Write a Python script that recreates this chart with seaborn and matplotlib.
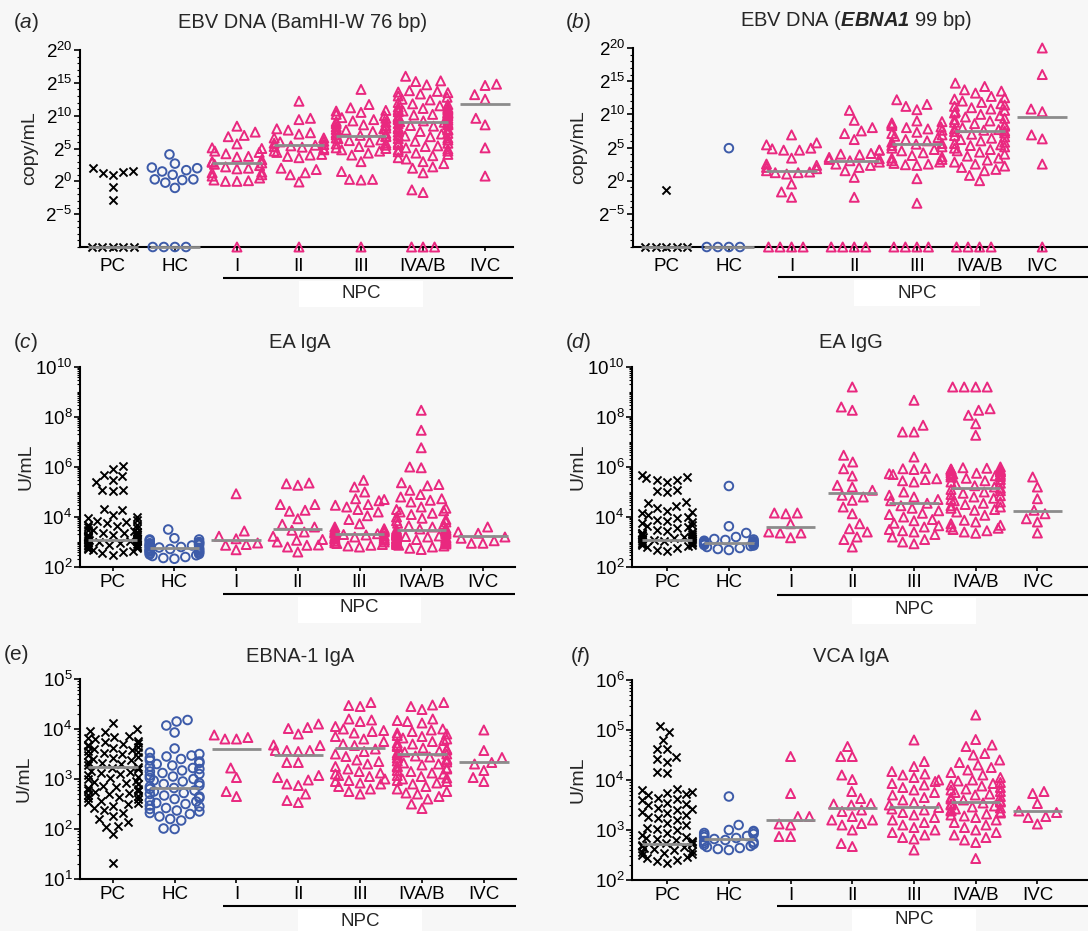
import warnings
warnings.filterwarnings("ignore")
import numpy as np
import pandas as pd
import matplotlib
matplotlib.use("Agg")
import matplotlib.pyplot as plt
import seaborn as sns
from matplotlib.patches import Rectangle
from matplotlib.ticker import NullFormatter
from matplotlib.transforms import blended_transform_factory

sns.set_style("ticks")
plt.rcParams["font.family"] = ["Liberation Sans", "DejaVu Sans"]
plt.rcParams["mathtext.fontset"] = "custom"
plt.rcParams["mathtext.rm"] = "Liberation Sans"
plt.rcParams["mathtext.it"] = "Liberation Sans:italic"
plt.rcParams["mathtext.bf"] = "Liberation Sans:bold"
plt.rcParams["mathtext.bfit"] = "Liberation Sans:italic:bold"

CATS = ["PC", "HC", "I", "II", "III", "IVA/B", "IVC"]
KIND = {"PC": "PC", "HC": "HC", "I": "NPC", "II": "NPC", "III": "NPC", "IVA/B": "NPC", "IVC": "NPC"}
ND = None  # undetectable (0 copy/mL), shown on the baseline

# ---------- (a) EBV DNA BamHI-W, log2 copy/mL ----------
A_PC = [1.5, 1.3, 1.0, 1.4, 2.0, -0.9, -2.9, ND, ND, ND, ND, ND]
A_HC = [4.1, 2.7, 2.0, 2.1, 1.7, 1.5, 1.0, 0.3, 0.2, 0.3, -0.2, -1.0, ND, ND, ND, ND]
A_I = [8.4, 7.5, 7.0, 6.8, 5.7, 5.0, 5.1, 4.6, 4.4, 4.2, 3.8, 3.7, 3.3, 3.0, 2.9,
       2.8, 2.6, 2.4, 2.2, 2.0, 1.9, 1.4, 1.3, 1.0, 0.8, 0.5, 0.2, 0.1, 0.0, 0.0, ND]
A_II = [12.2, 9.6, 9.4, 8.0, 7.8, 7.4, 7.2, 6.6, 6.6, 6.1, 6.0, 5.8, 5.6, 5.5, 5.4, 5.3, 5.2, 5.0,
        4.8, 4.6, 4.4, 4.1, 4.0, 3.8, 3.6, 2.0, 1.8, 1.3, 1.0, -0.1, ND]
A_III = [14.0, 11.7, 11.2, 10.8, 10.7, 10.5, 10.2, 10.0, 9.7, 9.6, 9.4, 9.2, 9.1, 9.0, 8.8, 8.6, 8.5,
         8.3, 8.1, 8.0, 7.9, 7.8, 7.6, 7.4, 7.3, 7.1, 7.0, 6.9, 6.8, 6.6, 6.5, 6.3, 6.2, 6.0, 5.8,
         5.7, 5.5, 5.3, 5.1, 5.0, 4.8, 4.6, 4.3, 4.0, 3.0, 1.5, 0.3, 0.3, 0.2, ND]
A_IVAB = [16.0, 15.2, 15.3, 14.7, 13.8, 13.7, 13.6, 13.5, 13.3, 13.0, 12.8, 12.5, 12.4, 12.0, 11.8,
          11.7, 11.5, 11.3, 11.2, 11.1, 11.0, 10.9, 10.8, 10.7, 10.6, 10.5, 10.4, 10.3, 10.2, 10.1,
          10.0, 9.9, 9.8, 9.7, 9.6, 9.5, 9.4, 9.3, 9.2, 9.1, 9.0, 8.9, 8.8, 8.7, 8.6, 8.5, 8.4, 8.2,
          8.0, 7.9, 7.8, 7.6, 7.5, 7.3, 7.2, 7.0, 6.9, 6.8, 6.6, 6.5, 6.3, 6.1, 5.9, 5.8, 5.6, 5.4,
          5.3, 5.1, 4.9, 4.8, 4.6, 4.5, 4.3, 4.1, 3.9, 3.6, 3.4, 3.0, 2.7, 2.2, 2.0, 1.3, -1.3, -1.7,
          ND, ND, ND]
A_IVC = [14.6, 14.8, 13.2, 12.5, 9.6, 8.6, 5.1, 0.8]
A_MED = [ND, ND, 2.85, 5.5, 6.85, 9.1, 11.8]

# ---------- (b) EBV DNA EBNA1, log2 copy/mL ----------
B_PC = [-1.4, ND, ND, ND, ND, ND]
B_HC = [4.9, ND, ND, ND, ND]
B_I = [6.9, 5.7, 5.4, 4.9, 4.8, 4.6, 4.6, 3.4, 2.5, 2.3, 2.0, 1.8, 1.2, 1.3, 1.5, 1.0, 1.2,
       -0.5, -1.7, -2.5, ND, ND, ND, ND]
B_II = [10.6, 9.1, 8.0, 7.5, 7.1, 6.2, 4.6, 4.6, 4.1, 4.0, 3.9, 3.5, 3.3, 3.2, 3.0, 2.8, 2.5,
        2.3, 2.0, 1.5, 0.5, -2.5, ND, ND, ND, ND]
B_III = [12.2, 11.5, 11.2, 10.7, 9.0, 8.9, 8.7, 8.5, 8.3, 8.1, 8.0, 7.8, 7.6, 7.3, 7.1, 6.9, 6.7,
         6.5, 6.2, 6.0, 5.8, 5.6, 5.5, 5.3, 5.1, 4.9, 4.7, 4.5, 4.2, 3.8, 3.6, 3.4, 3.2, 3.0, 2.8,
         2.6, 2.5, 2.4, 2.3, 0.3, -3.4, ND, ND, ND, ND]
B_IVAB = [14.7, 14.2, 13.7, 13.5, 13.2, 12.7, 12.5, 12.3, 12.0, 11.8, 11.6, 11.4, 11.2, 11.0, 10.8,
          10.6, 10.4, 10.2, 10.0, 9.8, 9.6, 9.4, 9.2, 9.0, 8.8, 8.6, 8.4, 8.2, 8.0, 7.8, 7.7, 7.6,
          7.5, 7.4, 7.2, 7.0, 6.8, 6.6, 6.4, 6.2, 6.0, 5.8, 5.6, 5.4, 5.3, 5.1, 4.9, 4.7, 4.5, 4.3,
          4.0, 3.7, 3.4, 3.1, 2.8, 2.5, 2.2, 2.0, 1.7, 1.5, 0.8, 0.0, ND, ND, ND, ND]
B_IVC = [20.0, 16.0, 10.8, 10.4, 6.9, 6.3, 2.5, ND]
B_MED = [ND, ND, 1.4, 3.0, 5.6, 7.5, 9.6]

# ---------- (c) EA IgA, log10 U/mL ----------
C_PC = [6.04, 5.94, 5.7, 5.63, 5.47, 5.4, 5.1, 5.07, 5.05, 4.33, 4.27, 4.1, 4.0, 3.95, 3.9, 3.85,
        3.8, 3.75, 3.7, 3.68, 3.65, 3.6, 3.55, 3.5, 3.48, 3.45, 3.42, 3.4, 3.38, 3.35, 3.33, 3.3,
        3.28, 3.25, 3.23, 3.2, 3.18, 3.15, 3.13, 3.1, 3.08, 3.05, 3.03, 3.0, 2.98, 2.95, 2.93, 2.9,
        2.88, 2.85, 2.83, 2.8, 2.78, 2.75, 2.72, 2.7, 2.65, 2.6, 2.55, 2.5]
C_HC = [3.5, 3.15, 3.1, 3.1, 3.05, 3.0, 2.98, 2.95, 2.93, 2.9, 2.88, 2.86, 2.84, 2.82, 2.8, 2.78,
        2.76, 2.74, 2.72, 2.7, 2.68, 2.66, 2.64, 2.62, 2.6, 2.58, 2.55, 2.52, 2.5, 2.47, 2.44, 2.4,
        2.36, 2.33]
C_I = [4.93, 3.44, 3.23, 3.13, 2.96, 2.9, 2.87, 2.69]
C_II = [5.36, 5.27, 5.33, 4.5, 4.27, 4.23, 4.5, 3.93, 3.71, 3.6, 3.4, 3.47, 3.23, 2.87, 2.88,
        3.07, 3.0, 3.1, 2.8, 2.6]
C_III = [5.47, 5.2, 5.0, 4.73, 4.7, 4.65, 4.5, 4.47, 4.4, 4.3, 4.2, 4.05, 3.9, 3.73, 3.6, 3.53,
         3.5, 3.47, 3.45, 3.42, 3.4, 3.38, 3.35, 3.33, 3.3, 3.28, 3.25, 3.22, 3.2, 3.17, 3.15,
         3.12, 3.1, 3.07, 3.04, 3.0, 2.97, 2.94, 2.9, 2.87, 2.84, 2.8]
C_IVAB = [8.27, 7.47, 6.77, 6.0, 5.97, 5.37, 5.3, 5.25, 5.07, 4.9, 4.8, 4.73, 4.67, 4.6, 4.4, 4.35,
          4.3, 4.25, 4.2, 4.15, 4.1, 4.0, 3.95, 3.9, 3.85, 3.8, 3.75, 3.7, 3.65, 3.6, 3.55, 3.52,
          3.5, 3.48, 3.45, 3.43, 3.4, 3.38, 3.36, 3.34, 3.32, 3.3, 3.28, 3.26, 3.24, 3.22, 3.2,
          3.18, 3.16, 3.14, 3.12, 3.1, 3.08, 3.06, 3.04, 3.02, 3.0, 2.98, 2.96, 2.94, 2.92, 2.9,
          2.87, 2.84, 2.8, 2.75, 2.7]
C_IVC = [3.6, 3.4, 3.35, 3.2, 3.15, 3.05, 2.95, 2.95]
C_MED = [3.1, 2.76, 3.07, 3.53, 3.33, 3.5, 3.24]

# ---------- (d) EA IgG, log10 U/mL ----------
D_PC = [5.67, 5.62, 5.55, 5.5, 5.47, 5.42, 5.1, 5.05, 5.0, 4.6, 4.55, 4.45, 4.35, 4.25, 4.2, 4.15,
        4.1, 4.0, 3.95, 3.9, 3.85, 3.8, 3.75, 3.7, 3.65, 3.6, 3.55, 3.5, 3.45, 3.4, 3.38, 3.35,
        3.32, 3.3, 3.27, 3.25, 3.22, 3.2, 3.17, 3.15, 3.12, 3.1, 3.08, 3.05, 3.03, 3.0, 2.98, 2.95,
        2.92, 2.9, 2.87, 2.84, 2.8, 2.75, 2.7, 2.65]
D_HC = [5.24, 3.63, 3.36, 3.2, 3.12, 3.1, 3.08, 3.05, 3.03, 3.0, 2.98, 2.96, 2.94, 2.92, 2.9, 2.88,
        2.86, 2.84, 2.8, 2.76, 2.72, 2.68]
D_I = [4.16, 4.13, 4.16, 3.73, 3.36, 3.36, 3.17, 3.4]
D_II = [9.2, 8.4, 8.27, 6.47, 6.2, 5.93, 5.64, 5.27, 5.2, 5.07, 4.87, 4.8, 4.67, 4.4, 4.13, 3.73,
        3.53, 3.4, 3.2, 3.1, 2.8]
D_III = [8.67, 7.67, 7.4, 7.4, 6.4, 5.93, 5.9, 5.95, 5.73, 5.7, 5.53, 5.5, 5.45, 5.4, 5.0, 4.87,
         4.8, 4.7, 4.65, 4.55, 4.45, 4.35, 4.25, 4.15, 4.1, 4.0, 3.9, 3.85, 3.75, 3.65, 3.6, 3.5,
         3.45, 3.4, 3.3, 3.2, 3.1, 3.0, 2.93]
D_IVAB = [9.2, 9.2, 9.2, 9.2, 8.33, 8.27, 8.07, 7.73, 7.27, 6.0, 5.97, 5.95, 5.92, 5.9, 5.88, 5.85,
          5.82, 5.8, 5.77, 5.75, 5.72, 5.7, 5.67, 5.65, 5.62, 5.6, 5.55, 5.5, 5.45, 5.4, 5.35, 5.3,
          5.25, 5.2, 5.15, 5.1, 5.05, 5.0, 4.95, 4.9, 4.85, 4.8, 4.75, 4.7, 4.65, 4.6, 4.55, 4.5,
          4.45, 4.4, 4.35, 4.3, 4.27, 4.2, 4.07, 3.87, 3.8, 3.73, 3.67, 3.6, 3.55, 3.5, 3.45, 3.4,
          3.35]
D_IVC = [5.6, 5.2, 4.73, 4.27, 4.13, 3.93, 3.8, 3.36]
D_MED = [3.1, 2.96, 3.6, 4.96, 4.56, 5.17, 4.23]

# ---------- (e) EBNA-1 IgA, log10 U/mL ----------
E_PC = [4.12, 4.0, 3.97, 3.95, 3.87, 3.85, 3.82, 3.8, 3.77, 3.75, 3.72, 3.7, 3.68, 3.66, 3.64,
        3.62, 3.6, 3.58, 3.57, 3.55, 3.53, 3.5, 3.48, 3.45, 3.42, 3.4, 3.38, 3.35, 3.32, 3.3, 3.28,
        3.25, 3.22, 3.2, 3.17, 3.15, 3.12, 3.1, 3.08, 3.05, 3.02, 3.0, 2.97, 2.95, 2.92, 2.9, 2.87,
        2.85, 2.82, 2.8, 2.78, 2.76, 2.74, 2.72, 2.7, 2.68, 2.66, 2.64, 2.62, 2.6, 2.57, 2.55,
        2.52, 2.5, 2.47, 2.42, 2.38, 2.33, 2.27, 2.2, 2.15, 2.07, 2.05, 1.9, 1.33]
E_HC = [4.18, 4.15, 4.07, 3.93, 3.61, 3.53, 3.5, 3.47, 3.45, 3.42, 3.4, 3.37, 3.35, 3.32, 3.3,
        3.27, 3.25, 3.22, 3.2, 3.17, 3.15, 3.12, 3.1, 3.07, 3.05, 3.02, 3.0, 2.97, 2.95, 2.92, 2.9,
        2.87, 2.85, 2.82, 2.8, 2.77, 2.75, 2.72, 2.7, 2.67, 2.65, 2.62, 2.6, 2.57, 2.55, 2.52, 2.5,
        2.47, 2.45, 2.42, 2.4, 2.37, 2.35, 2.32, 2.3, 2.25, 2.2, 2.17, 2.01, 2.0]
E_I = [3.83, 3.8, 3.8, 3.88, 3.22, 3.03, 2.75, 2.65]
E_II = [4.1, 4.03, 4.01, 3.9, 3.67, 3.68, 3.57, 3.57, 3.57, 3.55, 3.33, 3.33, 3.03, 3.07, 2.98,
        2.9, 2.87, 2.7, 2.53, 2.57]
E_III = [4.53, 4.47, 4.45, 4.2, 4.18, 4.15, 4.05, 4.0, 3.97, 3.95, 3.92, 3.85, 3.8, 3.75, 3.7,
         3.67, 3.6, 3.55, 3.5, 3.45, 3.38, 3.35, 3.3, 3.25, 3.2, 3.15, 3.12, 3.1, 3.07, 3.05, 3.0,
         2.97, 2.95, 2.92, 2.9, 2.85, 2.8, 2.75, 2.7]
E_IVAB = [4.53, 4.48, 4.45, 4.39, 4.2, 4.17, 4.15, 4.12, 4.0, 3.98, 3.95, 3.92, 3.9, 3.87, 3.85,
          3.82, 3.8, 3.77, 3.75, 3.72, 3.7, 3.67, 3.65, 3.62, 3.6, 3.58, 3.56, 3.54, 3.52, 3.5,
          3.48, 3.46, 3.44, 3.42, 3.4, 3.38, 3.36, 3.34, 3.32, 3.3, 3.28, 3.26, 3.24, 3.22, 3.2,
          3.17, 3.15, 3.12, 3.1, 3.07, 3.05, 3.02, 3.0, 2.97, 2.95, 2.92, 2.9, 2.85, 2.8, 2.75,
          2.72, 2.7, 2.65, 2.6, 2.5, 2.41]
E_IVC = [3.98, 3.57, 3.43, 3.33, 3.3, 3.17, 3.03, 2.95]
E_MED = [3.25, 2.82, 3.6, 3.49, 3.62, 3.5, 3.35]

# ---------- (f) VCA IgA, log10 U/mL ----------
F_PC = [5.08, 4.97, 4.81, 4.63, 4.63, 4.47, 4.42, 4.37, 4.17, 4.15, 3.83, 3.8, 3.77, 3.75, 3.72,
        3.7, 3.65, 3.62, 3.6, 3.55, 3.52, 3.5, 3.45, 3.42, 3.4, 3.37, 3.35, 3.3, 3.27, 3.25, 3.2,
        3.15, 3.1, 3.05, 3.02, 3.0, 2.95, 2.9, 2.87, 2.85, 2.82, 2.8, 2.78, 2.76, 2.74, 2.72, 2.7,
        2.68, 2.66, 2.64, 2.62, 2.6, 2.58, 2.56, 2.54, 2.52, 2.5, 2.47, 2.44, 2.41, 2.38, 2.35]
F_HC = [3.67, 3.1, 3.0, 2.98, 2.96, 2.94, 2.92, 2.9, 2.88, 2.86, 2.84, 2.82, 2.8, 2.78, 2.76, 2.74,
        2.72, 2.7, 2.68, 2.66, 2.64, 2.62, 2.6]
F_I = [4.47, 3.73, 3.27, 3.27, 3.12, 3.1, 2.87, 2.87]
F_II = [4.67, 4.47, 4.47, 4.1, 4.01, 3.77, 3.63, 3.53, 3.52, 3.5, 3.4, 3.37, 3.27, 3.2, 3.2, 3.13,
        3.1, 3.0, 2.73, 2.67]
F_III = [4.8, 4.37, 4.27, 4.17, 4.12, 4.1, 4.05, 4.0, 3.97, 3.93, 3.9, 3.85, 3.8, 3.75, 3.7, 3.65,
         3.6, 3.55, 3.5, 3.45, 3.42, 3.4, 3.35, 3.3, 3.25, 3.2, 3.15, 3.1, 3.05, 3.0, 2.95, 2.9,
         2.85, 2.82, 2.6]
F_IVAB = [5.3, 4.81, 4.67, 4.7, 4.53, 4.5, 4.4, 4.35, 4.3, 4.25, 4.2, 4.15, 4.1, 4.05, 4.0, 3.98,
          3.95, 3.93, 3.9, 3.88, 3.85, 3.82, 3.8, 3.77, 3.75, 3.72, 3.7, 3.67, 3.65, 3.62, 3.6,
          3.58, 3.56, 3.54, 3.52, 3.5, 3.48, 3.46, 3.44, 3.42, 3.4, 3.38, 3.36, 3.34, 3.32, 3.3,
          3.28, 3.25, 3.2, 3.15, 3.1, 3.05, 3.0, 2.95, 2.9, 2.85, 2.8, 2.75, 2.43]
F_IVC = [3.73, 3.77, 3.53, 3.35, 3.27, 3.25, 3.12, 3.38]
F_MED = [2.73, 2.83, 3.2, 3.45, 3.47, 3.57, 3.38]

# ---------- styling ----------
BG = "#f7f7f7"
PINK = "#e9287f"
BLUE = "#3d5ba9"
MEDC = "#8c8c8c"
STYLES = {
    "PC": dict(marker="x", color="black", size=5.8, lw=1.4, open=False),
    "HC": dict(marker="o", color=BLUE, size=6.2, lw=1.4, open=True),
    "NPC": dict(marker="^", color=PINK, size=6.5, lw=1.4, open=True),
}
TICK_FS = 13.5
TITLE_FS = 14.5

W, H = 1088, 931
PANELS = [
    dict(tag=r"($\mathit{a}$)", tag_xy=(13, 22), title="EBV DNA (BamHI-W 76 bp)", title_xy=(303, 22),
         ylabel="copy/mL", ylab_x=38, base=2, ylim=(-10, 20), majors=[-5, 0, 5, 10, 15, 20],
         box=(80, 513, 50, 247), xlim=(-0.53, 6.45), npc=(31, 46), xpad=5,
         data=[A_PC, A_HC, A_I, A_II, A_III, A_IVAB, A_IVC], med=A_MED),
    dict(tag=r"($\mathit{b}$)", tag_xy=(565, 22), title=r"EBV DNA ($\mathbfit{EBNA1}$ 99 bp)",
         title_xy=(856, 20), ylabel="copy/mL", ylab_x=587, base=2, ylim=(-10, 20),
         majors=[-5, 0, 5, 10, 15, 20], box=(633, 1088, 48, 247), xlim=(-0.53, 6.73), npc=(30, 46),
         xpad=5, data=[B_PC, B_HC, B_I, B_II, B_III, B_IVAB, B_IVC], med=B_MED),
    dict(tag=r"($\mathit{c}$)", tag_xy=(13, 343), title="EA IgA", title_xy=(300, 343),
         ylabel="U/mL", ylab_x=35, base=10, ylim=(2, 10), majors=[2, 4, 6, 8, 10],
         box=(80, 515, 367, 567), xlim=(-0.53, 6.52), npc=(27, 41), xpad=2,
         data=[C_PC, C_HC, C_I, C_II, C_III, C_IVAB, C_IVC], med=C_MED),
    dict(tag=r"($\mathit{d}$)", tag_xy=(565, 343), title="EA IgG", title_xy=(851, 343),
         ylabel="U/mL", ylab_x=587, base=10, ylim=(2, 10), majors=[2, 4, 6, 8, 10],
         box=(632, 1088, 367, 567), xlim=(-0.57, 6.82), npc=(28, 42), xpad=2,
         data=[D_PC, D_HC, D_I, D_II, D_III, D_IVAB, D_IVC], med=D_MED),
    dict(tag="(e)", tag_xy=(4, 655), title="EBNA-1 IgA", title_xy=(300, 656),
         ylabel="U/mL", ylab_x=33, base=10, ylim=(1, 5), majors=[1, 2, 3, 4, 5],
         box=(80, 516, 679, 879), xlim=(-0.53, 6.52), npc=(27, 43), xpad=2,
         data=[E_PC, E_HC, E_I, E_II, E_III, E_IVAB, E_IVC], med=E_MED),
    dict(tag=r"($\mathit{f}$)", tag_xy=(570, 657), title="VCA IgA", title_xy=(851, 657),
         ylabel="U/mL", ylab_x=587, base=10, ylim=(2, 6), majors=[2, 3, 4, 5, 6],
         box=(632, 1088, 680, 880), xlim=(-0.57, 6.82), npc=(26, 40), xpad=2,
         data=[F_PC, F_HC, F_I, F_II, F_III, F_IVAB, F_IVC], med=F_MED),
]

fig = plt.figure(figsize=(W / 100, H / 100), dpi=100, facecolor=BG)

for p in PANELS:
    l, r, t, b = p["box"]
    ax = fig.add_axes([l / W, 1 - b / H, (r - l) / W, (b - t) / H])
    ax.set_facecolor("none")
    base = p["base"]
    lo, hi = p["ylim"]
    rows = []
    for cat, vals in zip(CATS, p["data"]):
        for v in vals:
            e = lo if v is None else v
            rows.append((cat, float(base) ** e, KIND[cat]))
    df = pd.DataFrame(rows, columns=["group", "value", "kind"])

    for kind, st in STYLES.items():
        sub = df[df["kind"] == kind]
        n0 = len(ax.collections)
        sns.swarmplot(data=sub, x="group", y="value", order=CATS, ax=ax, size=st["size"],
                      marker=st["marker"], color=st["color"], linewidth=st["lw"],
                      log_scale=base, warn_thresh=1.0)
        for c in list(ax.collections[n0:]):
            if len(c.get_offsets()) == 0:
                c.remove()
                continue
            if st["open"]:
                c.set_facecolor("none")
            else:
                c.set_facecolor(st["color"])
            c.set_edgecolor(st["color"])
            c.set_linewidth(st["lw"])
            c.set_zorder(3)
            if base == 2:
                c.set_clip_on(False)

    for i, m in enumerate(p["med"]):
        e = lo if m is None else m
        ax.hlines(float(base) ** e, i - 0.4, i + 0.4, color=MEDC, lw=2.0, zorder=5, clip_on=False)

    ax.set_ylim(float(base) ** lo, float(base) ** hi)
    ax.set_xlim(*p["xlim"])
    ax.set_yticks([float(base) ** k for k in p["majors"]],
                  [rf"${base}^{{{k}}}$" for k in p["majors"]])
    if base == 2:
        minors = [2.0 ** k for k in range(lo, hi + 1)]
    else:
        minors = [m * 10.0 ** d for d in range(lo, hi) for m in range(1, 10)]
    ax.set_yticks(minors, minor=True)
    ax.yaxis.set_minor_formatter(NullFormatter())
    ax.set_xticks(range(len(CATS)), CATS)
    ax.set_xlabel("")
    ax.set_ylabel(p["ylabel"], fontsize=14)
    ax.yaxis.set_label_coords((p["ylab_x"] - l) / (r - l), 0.5)

    for s in ["top", "right"]:
        ax.spines[s].set_visible(False)
    for s in ["left", "bottom"]:
        ax.spines[s].set_linewidth(1.5)
        ax.spines[s].set_color("black")
    ax.tick_params(axis="y", which="major", length=4, width=1.2, labelsize=TICK_FS, pad=1.5,
                   colors="black")
    ax.tick_params(axis="y", which="minor", length=2.2, width=0.8, colors="black")
    ax.tick_params(axis="x", which="major", length=3, width=1.2, labelsize=TICK_FS,
                   pad=p["xpad"], colors="black")
    ax.tick_params(axis="x", which="minor", length=0)

    # NPC bracket below the stage categories
    h = b - t
    trans = blended_transform_factory(ax.transData, ax.transAxes)
    yl = -p["npc"][0] / h
    ax.plot([1.78, p["xlim"][1]], [yl, yl], transform=trans, color="black", lw=1.5,
            clip_on=False, solid_capstyle="butt")
    ax.add_patch(Rectangle((3.0, -(p["npc"][0] + 3) / h), 2.0, -26 / h, transform=trans,
                           facecolor="white", edgecolor="none", clip_on=False, zorder=1))
    ax.text(4.0, -p["npc"][1] / h, "NPC", transform=trans, ha="center", va="center",
            fontsize=TICK_FS, zorder=2)

    fig.text(p["title_xy"][0] / W, 1 - p["title_xy"][1] / H, p["title"], ha="center",
             va="center", fontsize=TITLE_FS)
    fig.text(p["tag_xy"][0] / W, 1 - p["tag_xy"][1] / H, p["tag"], ha="left", va="center",
             fontsize=15)

fig.savefig("out.png", dpi=100, facecolor=BG)
